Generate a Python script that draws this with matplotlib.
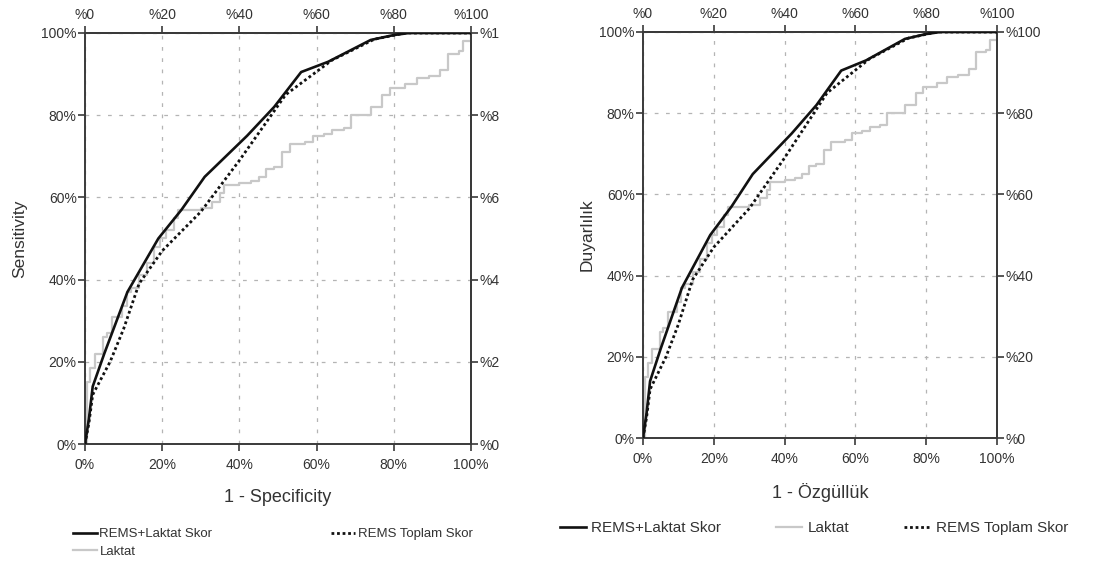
import matplotlib.pyplot as plt
from matplotlib.ticker import FixedLocator, FuncFormatter
from matplotlib.transforms import Bbox, TransformedBbox

plt.rcParams['font.family'] = ['Liberation Sans', 'DejaVu Sans']

# ---------- data (percent) ----------
rems_lak_x = [0, 1, 2, 5, 11, 19, 25, 31, 42, 49, 56, 63, 74, 80, 84, 100]
rems_lak_y = [0, 6, 14, 22, 37, 50, 57, 65, 75, 82, 90.5, 93, 98.3, 99.5, 100, 100]

rems_top_x = [0, 1, 2, 6.5, 10, 14, 20, 30, 40, 52, 64, 75, 83, 100]
rems_top_y = [0, 5, 12, 20, 28, 39, 47, 56.5, 69, 85, 93.4, 98.5, 100, 100]

laktat_x = [0, 0.5, 1.3, 2.5, 4.7, 5.7, 7, 9.5, 10.8, 12, 14, 16, 18, 19.5, 21, 23, 24,
            27, 30, 33, 35, 36, 40, 43, 45, 47, 49, 51, 53, 57, 59, 62, 64, 67, 69, 72,
            74, 77, 79, 83, 86, 89, 92, 94, 97, 98, 100]
laktat_y = [0, 15, 18.4, 22, 26, 27, 31, 33.6, 37, 38, 41, 44, 48, 50, 52, 55, 57,
            57, 57.5, 59, 61, 63, 63.5, 64, 65, 67, 67.5, 71, 73, 73.5, 75, 75.5, 76.5, 77, 80, 80,
            82, 85, 86.5, 87.5, 89, 89.5, 91, 95, 95.5, 98, 100]

ticks = [0, 20, 40, 60, 80, 100]

panels = [
    dict(rect=[85 / 1104, 1 - 444 / 566, 386 / 1104, 411 / 566],
         xlabel='1 - Specificity', ylabel='Sensitivity', ypad=10),
    dict(rect=[643 / 1104, 1 - 438 / 566, 354 / 1104, 406 / 566],
         xlabel='1 - Özgüllük', ylabel='Duyarlılık', ypad=3),
]

fig = plt.figure(figsize=(11.04, 5.66), dpi=100)
spine_col = '#3a3a3a'
axes = []
for p in panels:
    ax = fig.add_axes(p['rect'])
    ax.set_xlim(0, 100)
    ax.set_ylim(0, 100)
    ax.plot(laktat_x, laktat_y, color='#c8c8c8', lw=1.6, drawstyle='steps-post',
            label='Laktat', zorder=2)
    ax.plot(rems_top_x, rems_top_y, color='#111111', lw=2.0, ls=(0, (1.0, 1.0)),
            label='REMS Toplam Skor', zorder=3)
    ax.plot(rems_lak_x, rems_lak_y, color='#111111', lw=1.9,
            label='REMS+Laktat Skor', zorder=4)

    ax.xaxis.set_major_locator(FixedLocator(ticks))
    ax.yaxis.set_major_locator(FixedLocator(ticks))
    ax.xaxis.set_major_formatter(FuncFormatter(lambda v, _: f'{v:.0f}%'))
    ax.yaxis.set_major_formatter(FuncFormatter(lambda v, _: f'{v:.0f}%'))
    ax.grid(True, color='#b4b4b4', lw=0.9, ls=(0, (3, 6)))
    ax.tick_params(direction='out', length=5, width=1.2, color=spine_col,
                   labelsize=10, labelcolor='#333333', pad=1)
    ax.tick_params(axis='x', pad=5)
    for s in ax.spines.values():
        s.set_color(spine_col)
        s.set_linewidth(1.4)

    top = ax.secondary_xaxis('top')
    top.xaxis.set_major_locator(FixedLocator(ticks))
    top.xaxis.set_major_formatter(FuncFormatter(lambda v, _: f'%{v:.0f}'))
    right = ax.secondary_yaxis('right')
    right.yaxis.set_major_locator(FixedLocator(ticks))
    right.yaxis.set_major_formatter(FuncFormatter(lambda v, _: f'%{v:.0f}'))
    for sec in (top, right):
        sec.tick_params(direction='out', length=5, width=1.2, color=spine_col,
                        labelsize=10, labelcolor='#333333', pad=1)
        for s in sec.spines.values():
            s.set_color(spine_col)
            s.set_linewidth(1.4)
    top.tick_params(pad=3)

    ax.set_xlabel(p['xlabel'], fontsize=13, color='#333333', labelpad=12)
    ax.set_ylabel(p['ylabel'], fontsize=12.5, color='#333333', labelpad=p['ypad'])
    axes.append((ax, right))

# legends
h = {l.get_label(): l for l in axes[0][0].get_lines()}
fig.legend([h['REMS+Laktat Skor'], h['Laktat'], h['REMS Toplam Skor']],
           ['REMS+Laktat Skor', 'Laktat', 'REMS Toplam Skor'],
           ncol=2, loc='upper left', bbox_to_anchor=(73 / 1104, 1 - 528 / 566),
           frameon=False, fontsize=9.5, handlelength=1.8, handletextpad=0.2,
           columnspacing=9.0, labelspacing=0.4, borderpad=0, borderaxespad=0,
           labelcolor='#333333')
fig.legend([h['REMS+Laktat Skor'], h['Laktat'], h['REMS Toplam Skor']],
           ['REMS+Laktat Skor', 'Laktat', 'REMS Toplam Skor'],
           ncol=3, loc='upper left', bbox_to_anchor=(560 / 1104, 1 - 521 / 566),
           frameon=False, fontsize=11, handlelength=1.7, handletextpad=0.35,
           columnspacing=3.6, borderpad=0, borderaxespad=0, labelcolor='#333333')

# the left picture is cut off at its right edge
fig.canvas.draw()
clip = TransformedBbox(Bbox([[0, 0], [499 / 1104, 1]]), fig.transFigure)
for lab in axes[0][1].yaxis.get_ticklabels():
    lab.set_clip_on(True)
    lab.set_clip_box(clip)

fig.savefig('out.png', dpi=100)
